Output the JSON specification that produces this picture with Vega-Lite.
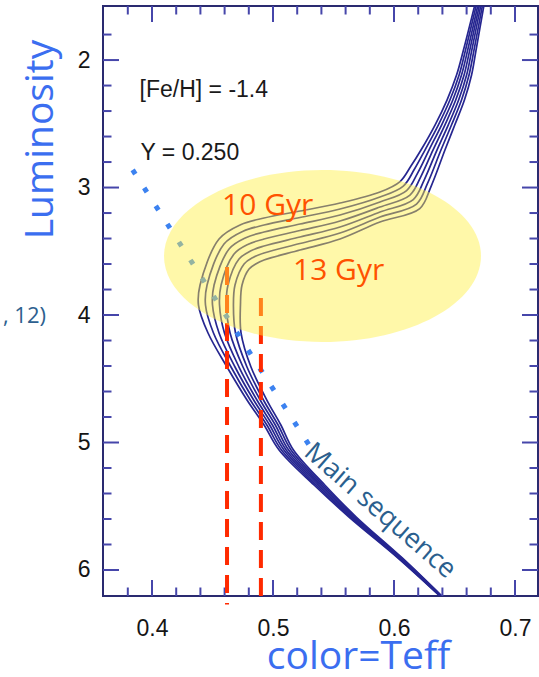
{
  "$schema": "https://vega.github.io/schema/vega-lite/v6.json",
  "width": 435,
  "height": 590,
  "autosize": "none",
  "padding": {"left": 103, "top": 6, "right": 1, "bottom": 81},
  "background": "white",
  "datasets": {
    "isochrones": [
      {"age":10,"n":1,"bv":0.6388,"mv":6.2118},{"age":10,"n":2,"bv":0.6033,"mv":5.9059},{"age":10,"n":3,"bv":0.5628,"mv":5.5843},{"age":10,"n":4,"bv":0.5339,"mv":5.3333},{"age":10,"n":5,"bv":0.5050,"mv":5.0588},{"age":10,"n":6,"bv":0.4926,"mv":4.8627},{"age":10,"n":7,"bv":0.4785,"mv":4.6667},{"age":10,"n":8,"bv":0.4620,"mv":4.4078},{"age":10,"n":9,"bv":0.4463,"mv":4.1412},{"age":10,"n":10,"bv":0.4384,"mv":3.9216},{"age":10,"n":11,"bv":0.4397,"mv":3.7647},{"age":10,"n":12,"bv":0.4554,"mv":3.4039},{"age":10,"n":13,"bv":0.4732,"mv":3.2918},{"age":10,"n":14,"bv":0.4926,"mv":3.2392},{"age":10,"n":15,"bv":0.5223,"mv":3.1843},{"age":10,"n":16,"bv":0.5554,"mv":3.1216},{"age":10,"n":17,"bv":0.5884,"mv":3.0353},{"age":10,"n":18,"bv":0.6050,"mv":2.9529},{"age":10,"n":19,"bv":0.6140,"mv":2.8314},{"age":10,"n":20,"bv":0.6223,"mv":2.7059},{"age":10,"n":21,"bv":0.6339,"mv":2.5098},{"age":10,"n":22,"bv":0.6438,"mv":2.3137},{"age":10,"n":23,"bv":0.6517,"mv":2.1176},{"age":10,"n":24,"bv":0.6574,"mv":1.9216},{"age":10,"n":25,"bv":0.6674,"mv":1.5451},
      {"age":10.5,"n":1,"bv":0.6390,"mv":6.2118},{"age":10.5,"n":2,"bv":0.6039,"mv":5.9059},{"age":10.5,"n":3,"bv":0.5638,"mv":5.5843},{"age":10.5,"n":4,"bv":0.5354,"mv":5.3333},{"age":10.5,"n":5,"bv":0.5070,"mv":5.0588},{"age":10.5,"n":6,"bv":0.4949,"mv":4.8627},{"age":10.5,"n":7,"bv":0.4812,"mv":4.6667},{"age":10.5,"n":8,"bv":0.4653,"mv":4.4078},{"age":10.5,"n":9,"bv":0.4508,"mv":4.1412},{"age":10.5,"n":10,"bv":0.4442,"mv":3.9216},{"age":10.5,"n":11,"bv":0.4455,"mv":3.7647},{"age":10.5,"n":12,"bv":0.4595,"mv":3.4431},{"age":10.5,"n":13,"bv":0.4753,"mv":3.3428},{"age":10.5,"n":14,"bv":0.4926,"mv":3.2941},{"age":10.5,"n":15,"bv":0.5223,"mv":3.2353},{"age":10.5,"n":16,"bv":0.5554,"mv":3.1687},{"age":10.5,"n":17,"bv":0.5884,"mv":3.0745},{"age":10.5,"n":18,"bv":0.6077,"mv":2.9882},{"age":10.5,"n":19,"bv":0.6167,"mv":2.8588},{"age":10.5,"n":20,"bv":0.6256,"mv":2.7059},{"age":10.5,"n":21,"bv":0.6366,"mv":2.5098},{"age":10.5,"n":22,"bv":0.6462,"mv":2.3137},{"age":10.5,"n":23,"bv":0.6538,"mv":2.1176},{"age":10.5,"n":24,"bv":0.6591,"mv":1.9216},{"age":10.5,"n":25,"bv":0.6686,"mv":1.5451},
      {"age":11,"n":1,"bv":0.6393,"mv":6.2118},{"age":11,"n":2,"bv":0.6045,"mv":5.9059},{"age":11,"n":3,"bv":0.5648,"mv":5.5843},{"age":11,"n":4,"bv":0.5369,"mv":5.3333},{"age":11,"n":5,"bv":0.5090,"mv":5.0588},{"age":11,"n":6,"bv":0.4972,"mv":4.8627},{"age":11,"n":7,"bv":0.4840,"mv":4.6667},{"age":11,"n":8,"bv":0.4686,"mv":4.4078},{"age":11,"n":9,"bv":0.4554,"mv":4.1412},{"age":11,"n":10,"bv":0.4500,"mv":3.9216},{"age":11,"n":11,"bv":0.4513,"mv":3.7647},{"age":11,"n":12,"bv":0.4637,"mv":3.4823},{"age":11,"n":13,"bv":0.4775,"mv":3.3938},{"age":11,"n":14,"bv":0.4926,"mv":3.3490},{"age":11,"n":15,"bv":0.5223,"mv":3.2863},{"age":11,"n":16,"bv":0.5554,"mv":3.2157},{"age":11,"n":17,"bv":0.5884,"mv":3.1137},{"age":11,"n":18,"bv":0.6104,"mv":3.0235},{"age":11,"n":19,"bv":0.6195,"mv":2.8863},{"age":11,"n":20,"bv":0.6289,"mv":2.7059},{"age":11,"n":21,"bv":0.6393,"mv":2.5098},{"age":11,"n":22,"bv":0.6486,"mv":2.3137},{"age":11,"n":23,"bv":0.6558,"mv":2.1176},{"age":11,"n":24,"bv":0.6609,"mv":1.9216},{"age":11,"n":25,"bv":0.6699,"mv":1.5451},
      {"age":11.5,"n":1,"bv":0.6395,"mv":6.2118},{"age":11.5,"n":2,"bv":0.6050,"mv":5.9059},{"age":11.5,"n":3,"bv":0.5658,"mv":5.5843},{"age":11.5,"n":4,"bv":0.5384,"mv":5.3333},{"age":11.5,"n":5,"bv":0.5109,"mv":5.0588},{"age":11.5,"n":6,"bv":0.4995,"mv":4.8627},{"age":11.5,"n":7,"bv":0.4867,"mv":4.6667},{"age":11.5,"n":8,"bv":0.4719,"mv":4.4078},{"age":11.5,"n":9,"bv":0.4599,"mv":4.1412},{"age":11.5,"n":10,"bv":0.4558,"mv":3.9216},{"age":11.5,"n":11,"bv":0.4571,"mv":3.7647},{"age":11.5,"n":12,"bv":0.4678,"mv":3.5215},{"age":11.5,"n":13,"bv":0.4796,"mv":3.4447},{"age":11.5,"n":14,"bv":0.4926,"mv":3.4039},{"age":11.5,"n":15,"bv":0.5223,"mv":3.3372},{"age":11.5,"n":16,"bv":0.5554,"mv":3.2628},{"age":11.5,"n":17,"bv":0.5884,"mv":3.1529},{"age":11.5,"n":18,"bv":0.6132,"mv":3.0588},{"age":11.5,"n":19,"bv":0.6222,"mv":2.9137},{"age":11.5,"n":20,"bv":0.6322,"mv":2.7059},{"age":11.5,"n":21,"bv":0.6420,"mv":2.5098},{"age":11.5,"n":22,"bv":0.6510,"mv":2.3137},{"age":11.5,"n":23,"bv":0.6579,"mv":2.1176},{"age":11.5,"n":24,"bv":0.6626,"mv":1.9216},{"age":11.5,"n":25,"bv":0.6711,"mv":1.5451},
      {"age":12,"n":1,"bv":0.6398,"mv":6.2118},{"age":12,"n":2,"bv":0.6056,"mv":5.9059},{"age":12,"n":3,"bv":0.5668,"mv":5.5843},{"age":12,"n":4,"bv":0.5399,"mv":5.3333},{"age":12,"n":5,"bv":0.5129,"mv":5.0588},{"age":12,"n":6,"bv":0.5019,"mv":4.8627},{"age":12,"n":7,"bv":0.4894,"mv":4.6667},{"age":12,"n":8,"bv":0.4752,"mv":4.4078},{"age":12,"n":9,"bv":0.4645,"mv":4.1412},{"age":12,"n":10,"bv":0.4615,"mv":3.9216},{"age":12,"n":11,"bv":0.4628,"mv":3.7647},{"age":12,"n":12,"bv":0.4719,"mv":3.5608},{"age":12,"n":13,"bv":0.4818,"mv":3.4957},{"age":12,"n":14,"bv":0.4926,"mv":3.4588},{"age":12,"n":15,"bv":0.5223,"mv":3.3882},{"age":12,"n":16,"bv":0.5554,"mv":3.3098},{"age":12,"n":17,"bv":0.5884,"mv":3.1922},{"age":12,"n":18,"bv":0.6159,"mv":3.0941},{"age":12,"n":19,"bv":0.6249,"mv":2.9412},{"age":12,"n":20,"bv":0.6355,"mv":2.7059},{"age":12,"n":21,"bv":0.6448,"mv":2.5098},{"age":12,"n":22,"bv":0.6534,"mv":2.3137},{"age":12,"n":23,"bv":0.6600,"mv":2.1176},{"age":12,"n":24,"bv":0.6643,"mv":1.9216},{"age":12,"n":25,"bv":0.6723,"mv":1.5451},
      {"age":12.5,"n":1,"bv":0.6400,"mv":6.2118},{"age":12.5,"n":2,"bv":0.6062,"mv":5.9059},{"age":12.5,"n":3,"bv":0.5678,"mv":5.5843},{"age":12.5,"n":4,"bv":0.5413,"mv":5.3333},{"age":12.5,"n":5,"bv":0.5149,"mv":5.0588},{"age":12.5,"n":6,"bv":0.5042,"mv":4.8627},{"age":12.5,"n":7,"bv":0.4921,"mv":4.6667},{"age":12.5,"n":8,"bv":0.4785,"mv":4.4078},{"age":12.5,"n":9,"bv":0.4690,"mv":4.1412},{"age":12.5,"n":10,"bv":0.4673,"mv":3.9216},{"age":12.5,"n":11,"bv":0.4686,"mv":3.7647},{"age":12.5,"n":12,"bv":0.4761,"mv":3.6000},{"age":12.5,"n":13,"bv":0.4839,"mv":3.5467},{"age":12.5,"n":14,"bv":0.4926,"mv":3.5137},{"age":12.5,"n":15,"bv":0.5223,"mv":3.4392},{"age":12.5,"n":16,"bv":0.5554,"mv":3.3569},{"age":12.5,"n":17,"bv":0.5884,"mv":3.2314},{"age":12.5,"n":18,"bv":0.6186,"mv":3.1294},{"age":12.5,"n":19,"bv":0.6276,"mv":2.9686},{"age":12.5,"n":20,"bv":0.6388,"mv":2.7059},{"age":12.5,"n":21,"bv":0.6475,"mv":2.5098},{"age":12.5,"n":22,"bv":0.6558,"mv":2.3137},{"age":12.5,"n":23,"bv":0.6620,"mv":2.1176},{"age":12.5,"n":24,"bv":0.6661,"mv":1.9216},{"age":12.5,"n":25,"bv":0.6736,"mv":1.5451},
      {"age":13,"n":1,"bv":0.6403,"mv":6.2118},{"age":13,"n":2,"bv":0.6068,"mv":5.9059},{"age":13,"n":3,"bv":0.5688,"mv":5.5843},{"age":13,"n":4,"bv":0.5428,"mv":5.3333},{"age":13,"n":5,"bv":0.5169,"mv":5.0588},{"age":13,"n":6,"bv":0.5065,"mv":4.8627},{"age":13,"n":7,"bv":0.4949,"mv":4.6667},{"age":13,"n":8,"bv":0.4818,"mv":4.4078},{"age":13,"n":9,"bv":0.4736,"mv":4.1412},{"age":13,"n":10,"bv":0.4731,"mv":3.9216},{"age":13,"n":11,"bv":0.4744,"mv":3.7647},{"age":13,"n":12,"bv":0.4802,"mv":3.6392},{"age":13,"n":13,"bv":0.4861,"mv":3.5977},{"age":13,"n":14,"bv":0.4926,"mv":3.5686},{"age":13,"n":15,"bv":0.5223,"mv":3.4902},{"age":13,"n":16,"bv":0.5554,"mv":3.4039},{"age":13,"n":17,"bv":0.5884,"mv":3.2706},{"age":13,"n":18,"bv":0.6213,"mv":3.1647},{"age":13,"n":19,"bv":0.6304,"mv":2.9961},{"age":13,"n":20,"bv":0.6421,"mv":2.7059},{"age":13,"n":21,"bv":0.6502,"mv":2.5098},{"age":13,"n":22,"bv":0.6582,"mv":2.3137},{"age":13,"n":23,"bv":0.6641,"mv":2.1176},{"age":13,"n":24,"bv":0.6678,"mv":1.9216},{"age":13,"n":25,"bv":0.6748,"mv":1.5451}
    ],
    "xTicks": [
      {"bv":0.40,"mv":6.204,"kind":"major"},{"bv":0.50,"mv":6.204,"kind":"major"},{"bv":0.60,"mv":6.204,"kind":"major"},{"bv":0.70,"mv":6.204,"kind":"major"},
      {"bv":0.40,"mv":1.576,"kind":"major"},{"bv":0.50,"mv":1.576,"kind":"major"},{"bv":0.60,"mv":1.576,"kind":"major"},{"bv":0.70,"mv":1.576,"kind":"major"},
      {"bv":0.38,"mv":6.204,"kind":"minor"},{"bv":0.42,"mv":6.204,"kind":"minor"},{"bv":0.44,"mv":6.204,"kind":"minor"},{"bv":0.46,"mv":6.204,"kind":"minor"},{"bv":0.48,"mv":6.204,"kind":"minor"},{"bv":0.52,"mv":6.204,"kind":"minor"},{"bv":0.54,"mv":6.204,"kind":"minor"},{"bv":0.56,"mv":6.204,"kind":"minor"},{"bv":0.58,"mv":6.204,"kind":"minor"},{"bv":0.62,"mv":6.204,"kind":"minor"},{"bv":0.64,"mv":6.204,"kind":"minor"},{"bv":0.66,"mv":6.204,"kind":"minor"},{"bv":0.68,"mv":6.204,"kind":"minor"},
      {"bv":0.38,"mv":1.576,"kind":"minor"},{"bv":0.42,"mv":1.576,"kind":"minor"},{"bv":0.44,"mv":1.576,"kind":"minor"},{"bv":0.46,"mv":1.576,"kind":"minor"},{"bv":0.48,"mv":1.576,"kind":"minor"},{"bv":0.52,"mv":1.576,"kind":"minor"},{"bv":0.54,"mv":1.576,"kind":"minor"},{"bv":0.56,"mv":1.576,"kind":"minor"},{"bv":0.58,"mv":1.576,"kind":"minor"},{"bv":0.62,"mv":1.576,"kind":"minor"},{"bv":0.64,"mv":1.576,"kind":"minor"},{"bv":0.66,"mv":1.576,"kind":"minor"},{"bv":0.68,"mv":1.576,"kind":"minor"}
    ],
    "yTicks": [
      {"bv":0.3595,"mv":2,"kind":"major"},{"bv":0.3595,"mv":3,"kind":"major"},{"bv":0.3595,"mv":4,"kind":"major"},{"bv":0.3595,"mv":5,"kind":"major"},{"bv":0.3595,"mv":6,"kind":"major"},
      {"bv":0.719,"mv":2,"kind":"major"},{"bv":0.719,"mv":3,"kind":"major"},{"bv":0.719,"mv":4,"kind":"major"},{"bv":0.719,"mv":5,"kind":"major"},{"bv":0.719,"mv":6,"kind":"major"},
      {"bv":0.3595,"mv":1.8,"kind":"minor"},{"bv":0.3595,"mv":2.2,"kind":"minor"},{"bv":0.3595,"mv":2.4,"kind":"minor"},{"bv":0.3595,"mv":2.6,"kind":"minor"},{"bv":0.3595,"mv":2.8,"kind":"minor"},{"bv":0.3595,"mv":3.2,"kind":"minor"},{"bv":0.3595,"mv":3.4,"kind":"minor"},{"bv":0.3595,"mv":3.6,"kind":"minor"},{"bv":0.3595,"mv":3.8,"kind":"minor"},{"bv":0.3595,"mv":4.2,"kind":"minor"},{"bv":0.3595,"mv":4.4,"kind":"minor"},{"bv":0.3595,"mv":4.6,"kind":"minor"},{"bv":0.3595,"mv":4.8,"kind":"minor"},{"bv":0.3595,"mv":5.2,"kind":"minor"},{"bv":0.3595,"mv":5.4,"kind":"minor"},{"bv":0.3595,"mv":5.6,"kind":"minor"},{"bv":0.3595,"mv":5.8,"kind":"minor"},
      {"bv":0.719,"mv":1.8,"kind":"minor"},{"bv":0.719,"mv":2.2,"kind":"minor"},{"bv":0.719,"mv":2.4,"kind":"minor"},{"bv":0.719,"mv":2.6,"kind":"minor"},{"bv":0.719,"mv":2.8,"kind":"minor"},{"bv":0.719,"mv":3.2,"kind":"minor"},{"bv":0.719,"mv":3.4,"kind":"minor"},{"bv":0.719,"mv":3.6,"kind":"minor"},{"bv":0.719,"mv":3.8,"kind":"minor"},{"bv":0.719,"mv":4.2,"kind":"minor"},{"bv":0.719,"mv":4.4,"kind":"minor"},{"bv":0.719,"mv":4.6,"kind":"minor"},{"bv":0.719,"mv":4.8,"kind":"minor"},{"bv":0.719,"mv":5.2,"kind":"minor"},{"bv":0.719,"mv":5.4,"kind":"minor"},{"bv":0.719,"mv":5.6,"kind":"minor"},{"bv":0.719,"mv":5.8,"kind":"minor"}
    ],
    "mainSequence": [{"bv": 0.3840, "mv": 2.862, "bv2": 0.5298, "mv2": 5.0196}],
    "turnoffColors": [
      {"bv": 0.462, "mv": 3.624, "mv2": 6.27},
      {"bv": 0.490, "mv": 3.867, "mv2": 6.27}
    ],
    "turnoffRegion": [{"bv": 0.5409, "mv": 3.5373}],
    "ageLabels": [
      {"label": "10 Gyr", "bv": 0.4579, "mv": 3.2157},
      {"label": "13 Gyr", "bv": 0.5165, "mv": 3.7255}
    ],
    "composition": [
      {"label": "[Fe/H] = -1.4", "bv": 0.3897, "mv": 2.2902},
      {"label": "Y = 0.250", "bv": 0.3905, "mv": 2.7843}
    ],
    "msLabel": [{"label": "Main sequence", "bv": 0.5884, "mv": 5.537}],
    "citation": [{"label": "11, 12)", "bv": 0.3124, "mv": 4.0627}]
  },
  "encoding": {
    "x": {"field": "bv", "type": "quantitative",
      "scale": {"domain": [0.3595, 0.719], "zero": false, "nice": false},
      "axis": {"orient": "bottom", "values": [0.4, 0.5, 0.6, 0.7], "format": ".1f", "ticks": false, "tickSize": 0, "domain": false, "labelPadding": 21, "labelDx": -4,
        "title": "color=Teff", "titleX": 255, "titleY": 72, "titleAlign": "center", "titleBaseline": "alphabetic", "titleAngle": 0}},
    "y": {"field": "mv", "type": "quantitative",
      "scale": {"domain": [1.576, 6.204], "reverse": true, "zero": false, "nice": false},
      "axis": {"orient": "left", "values": [2, 3, 4, 5, 6], "format": "d", "ticks": false, "tickSize": 0, "domain": false, "labelPadding": 13, "labelDy": 4,
        "title": "Luminosity", "titleX": -51, "titleY": 133, "titleAlign": "center", "titleBaseline": "alphabetic", "titleAngle": -90}}
  },
  "layer": [
    {
      "data": {"name": "isochrones"},
      "mark": {"type": "line", "interpolate": "catmull-rom", "stroke": "#262690", "strokeWidth": 1.7, "clip": true},
      "encoding": {
        "detail": {"field": "age", "type": "nominal"},
        "order": {"field": "n", "type": "quantitative"}
      }
    },
    {
      "data": {"name": "xTicks"},
      "mark": {"type": "tick", "orient": "vertical", "color": "#4646aa", "thickness": 2, "clip": true, "opacity": 1},
      "encoding": {
        "size": {"field": "kind", "type": "nominal", "scale": {"domain": ["major", "minor"], "range": [32, 17]}, "legend": null}
      }
    },
    {
      "data": {"name": "yTicks"},
      "mark": {"type": "tick", "orient": "horizontal", "color": "#4646aa", "thickness": 2, "clip": true, "opacity": 1},
      "encoding": {
        "size": {"field": "kind", "type": "nominal", "scale": {"domain": ["major", "minor"], "range": [32, 17]}, "legend": null}
      }
    },
    {
      "data": {"name": "mainSequence"},
      "mark": {"type": "rule", "stroke": "#3c82f0", "strokeWidth": 5, "strokeDash": [5, 16.4], "strokeCap": "butt"},
      "encoding": {
        "x2": {"field": "bv2"},
        "y2": {"field": "mv2"}
      }
    },
    {
      "data": {"name": "turnoffColors"},
      "mark": {"type": "rule", "stroke": "#ff2a00", "strokeWidth": 4, "strokeDash": [18, 10], "strokeCap": "butt"},
      "encoding": {
        "y2": {"field": "mv2"}
      }
    },
    {
      "data": {"name": "turnoffRegion"},
      "mark": {"type": "point", "filled": true, "fill": "#fff040", "fillOpacity": 0.45, "strokeWidth": 0, "size": 29584,
        "shape": "M-1.843,0C-1.843,-0.5523,-1.018,-1,0,-1C1.018,-1,1.843,-0.5523,1.843,0C1.843,0.5523,1.018,1,0,1C-1.018,1,-1.843,0.5523,-1.843,0Z"}
    },
    {
      "data": {"name": "ageLabels"},
      "mark": {"type": "text", "font": "Open Sans", "fontSize": 30, "fill": "#ff5200", "align": "left", "baseline": "alphabetic"},
      "encoding": {"text": {"field": "label"}}
    },
    {
      "data": {"name": "composition"},
      "mark": {"type": "text", "font": "Liberation Sans", "fontSize": 23, "fill": "#1a1a1a", "align": "left", "baseline": "alphabetic"},
      "encoding": {"text": {"field": "label"}}
    },
    {
      "data": {"name": "msLabel"},
      "mark": {"type": "text", "font": "Open Sans", "fontSize": 27, "fill": "#2b5f8e", "align": "center", "baseline": "middle", "angle": 41},
      "encoding": {"text": {"field": "label"}}
    },
    {
      "data": {"name": "citation"},
      "mark": {"type": "text", "font": "Open Sans", "fontSize": 22, "fill": "#2d5f8f", "align": "right", "baseline": "alphabetic"},
      "encoding": {"text": {"field": "label"}}
    }
  ],
  "config": {
    "view": {"stroke": "#2a2a70", "strokeWidth": 2},
    "axis": {
      "grid": false,
      "labelFont": "Liberation Sans",
      "labelFontSize": 23,
      "labelColor": "#151515",
      "titleFont": "Open Sans",
      "titleFontSize": 39,
      "titleFontWeight": "normal",
      "titleColor": "#3b6ef0"
    }
  }
}
